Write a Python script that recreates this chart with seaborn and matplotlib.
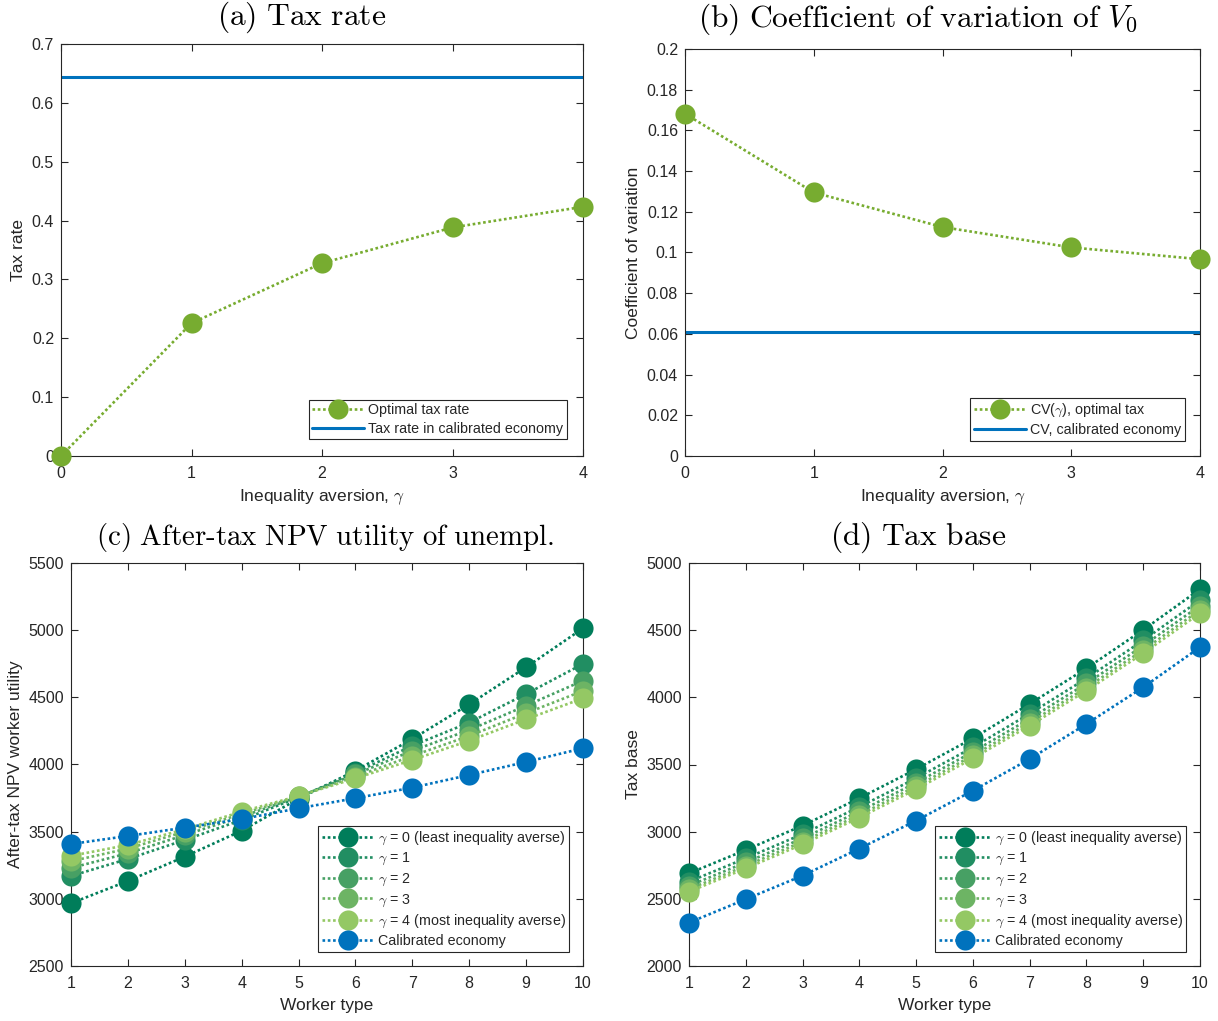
import numpy as np
import pandas as pd
import matplotlib
matplotlib.use("Agg")
import matplotlib.pyplot as plt
import seaborn as sns
from matplotlib.ticker import FuncFormatter, MultipleLocator

# ---------------- data ----------------
gamma = [0, 1, 2, 3, 4]
optimal_tax = [0.0, 0.2256, 0.3276, 0.3883, 0.4234]
calibrated_tax = 0.6445

cv_optimal = [0.1682, 0.1295, 0.1125, 0.1025, 0.0967]
cv_calibrated = 0.0611

worker_type = [1, 2, 3, 4, 5, 6, 7, 8, 9, 10]

# After-tax NPV worker utility, by inequality aversion
util_g0 = [2967, 3133, 3314, 3507, 3745, 3954, 4190, 4448, 4724, 5014]
util_g1 = [3170, 3297, 3438, 3587, 3756, 3940, 4140, 4312, 4525, 4749]
util_g2 = [3230, 3339, 3475, 3612, 3760, 3927, 4103, 4257, 4438, 4624]
util_g3 = [3280, 3374, 3500, 3632, 3763, 3910, 4064, 4213, 4382, 4548]
util_g4 = [3320, 3401, 3518, 3649, 3766, 3897, 4034, 4178, 4337, 4493]
util_cal = [3408, 3468, 3530, 3594, 3674, 3749, 3828, 3922, 4019, 4121]

# Tax base, by inequality aversion
base_g0 = [2690, 2864, 3045, 3249, 3465, 3695, 3951, 4216, 4502, 4805]
base_g1 = [2628, 2802, 2982, 3184, 3398, 3628, 3878, 4141, 4424, 4724]
base_g2 = [2597, 2771, 2950, 3151, 3364, 3594, 3841, 4103, 4384, 4683]
base_g3 = [2572, 2746, 2925, 3125, 3337, 3567, 3812, 4073, 4352, 4651]
base_g4 = [2553, 2727, 2906, 3105, 3316, 3546, 3789, 4050, 4328, 4626]
base_cal = [2323, 2497, 2673, 2874, 3082, 3305, 3541, 3802, 4075, 4373]

series_labels = [r"$\gamma$ = 0 (least inequality averse)",
                 r"$\gamma$ = 1",
                 r"$\gamma$ = 2",
                 r"$\gamma$ = 3",
                 r"$\gamma$ = 4 (most inequality averse)",
                 "Calibrated economy"]

# ---------------- style ----------------
sns.set_theme(style="ticks")
plt.rcParams["font.family"] = ["Liberation Sans", "DejaVu Sans"]
plt.rcParams["mathtext.fontset"] = "cm"
plt.rcParams["axes.edgecolor"] = "#262626"
plt.rcParams["axes.linewidth"] = 0.8
plt.rcParams["xtick.color"] = "#262626"
plt.rcParams["ytick.color"] = "#262626"
plt.rcParams["axes.labelcolor"] = "#262626"

GREEN = "#77AC30"
BLUE = "#0072BD"
SHADES = ["#007D5A", "#218E62", "#47A064", "#6DB464", "#94C864"]

TICK_FS = 11.5
LABEL_FS = 12.5
LEG_FS = 10.3
MS = 14.5
DOT = (0, (1, 1))
LW = 1.9

fig = plt.figure(figsize=(12.18, 10.21), dpi=100)
W, H = 1218.0, 1021.0


def axes_px(left, right, top, bottom):
    return fig.add_axes([left / W, 1 - bottom / H, (right - left) / W, (bottom - top) / H])


ax_a = axes_px(61, 583, 44, 456)
ax_b = axes_px(685, 1200, 49, 456)
ax_c = axes_px(71, 583, 563, 966)
ax_d = axes_px(689, 1200, 563, 966)

fmt = FuncFormatter(lambda v, p: f"{v:g}")


def style_axes(ax):
    ax.tick_params(direction="in", length=5, width=0.8, top=True, right=True,
                   labelsize=TICK_FS)
    ax.tick_params(axis="x", pad=7)
    ax.tick_params(axis="y", pad=5)
    for s in ax.spines.values():
        s.set_visible(True)
        s.set_linewidth(0.8)
        s.set_color("#262626")


def dotted_series(ax, x, y, color, label):
    sns.lineplot(x=x, y=y, ax=ax, color=color, linestyle=DOT, linewidth=LW,
                 marker="o", markersize=MS, markeredgewidth=0,
                 markerfacecolor=color, label=label, legend=False,
                 clip_on=False, zorder=3)


def make_legend(ax, right, bottom):
    leg = ax.legend(loc="lower right", bbox_to_anchor=(right, bottom),
                    fontsize=LEG_FS, frameon=True, fancybox=False,
                    framealpha=1, edgecolor="#262626", handlelength=3.6,
                    handletextpad=0.3, labelspacing=0.3, borderpad=0.25,
                    borderaxespad=0.0)
    leg.get_frame().set_linewidth(0.8)
    return leg


# (a) Tax rate
dotted_series(ax_a, gamma, optimal_tax, GREEN, "Optimal tax rate")
ax_a.axhline(calibrated_tax, color=BLUE, linewidth=2.2,
             label="Tax rate in calibrated economy", zorder=2)
ax_a.set_xlim(0, 4)
ax_a.set_ylim(0, 0.7)
ax_a.xaxis.set_major_locator(MultipleLocator(1))
ax_a.yaxis.set_major_locator(MultipleLocator(0.1))
ax_a.yaxis.set_major_formatter(fmt)
ax_a.set_xlabel(r"Inequality aversion, $\gamma$", fontsize=LABEL_FS, labelpad=5)
ax_a.set_ylabel("Tax rate", fontsize=LABEL_FS)
style_axes(ax_a)
make_legend(ax_a, 0.969, 0.041)

# (b) Coefficient of variation
dotted_series(ax_b, gamma, cv_optimal, GREEN, r"CV($\gamma$), optimal tax")
ax_b.axhline(cv_calibrated, color=BLUE, linewidth=2.2,
             label="CV, calibrated economy", zorder=2)
ax_b.set_xlim(0, 4)
ax_b.set_ylim(0, 0.2)
ax_b.xaxis.set_major_locator(MultipleLocator(1))
ax_b.yaxis.set_major_locator(MultipleLocator(0.02))
ax_b.yaxis.set_major_formatter(fmt)
ax_b.set_xlabel(r"Inequality aversion, $\gamma$", fontsize=LABEL_FS, labelpad=5)
ax_b.set_ylabel("Coefficient of variation", fontsize=LABEL_FS)
style_axes(ax_b)
make_legend(ax_b, 0.970, 0.038)

# (c) After-tax NPV utility
util_series = [util_g0, util_g1, util_g2, util_g3, util_g4]
for vals, col, lab in zip(util_series, SHADES, series_labels[:5]):
    dotted_series(ax_c, worker_type, vals, col, lab)
dotted_series(ax_c, worker_type, util_cal, BLUE, series_labels[5])
ax_c.set_xlim(1, 10)
ax_c.set_ylim(2500, 5500)
ax_c.xaxis.set_major_locator(MultipleLocator(1))
ax_c.yaxis.set_major_locator(MultipleLocator(500))
ax_c.yaxis.set_major_formatter(fmt)
ax_c.set_xlabel("Worker type", fontsize=LABEL_FS, labelpad=5)
ax_c.set_ylabel("After-tax NPV worker utility", fontsize=LABEL_FS)
style_axes(ax_c)
make_legend(ax_c, 0.973, 0.035)

# (d) Tax base
base_series = [base_g0, base_g1, base_g2, base_g3, base_g4]
for vals, col, lab in zip(base_series, SHADES, series_labels[:5]):
    dotted_series(ax_d, worker_type, vals, col, lab)
dotted_series(ax_d, worker_type, base_cal, BLUE, series_labels[5])
ax_d.set_xlim(1, 10)
ax_d.set_ylim(2000, 5000)
ax_d.xaxis.set_major_locator(MultipleLocator(1))
ax_d.yaxis.set_major_locator(MultipleLocator(500))
ax_d.yaxis.set_major_formatter(fmt)
ax_d.set_xlabel("Worker type", fontsize=LABEL_FS, labelpad=5)
ax_d.set_ylabel("Tax base", fontsize=LABEL_FS)
style_axes(ax_d)
make_legend(ax_d, 0.973, 0.035)

# panel titles
titles = [
    (302, 17, 22.7, r"$\mathrm{(a)\ Tax\ rate}$"),
    (918, 19, 22.7, r"$\mathrm{(b)\ Coefficient\ of\ variation\ of\ }V_0$"),
    (325, 537, 20.8, r"$\mathrm{(c)\ After\text{-}tax\ NPV\ utility\ of\ unempl.}$"),
    (918, 537, 22.7, r"$\mathrm{(d)\ Tax\ base}$"),
]
for xc, yc, fs, txt in titles:
    fig.text(xc / W, 1 - yc / H, txt, fontsize=fs, ha="center", va="center",
             color="#000000")

fig.savefig("out.png", dpi=100, facecolor="white")
